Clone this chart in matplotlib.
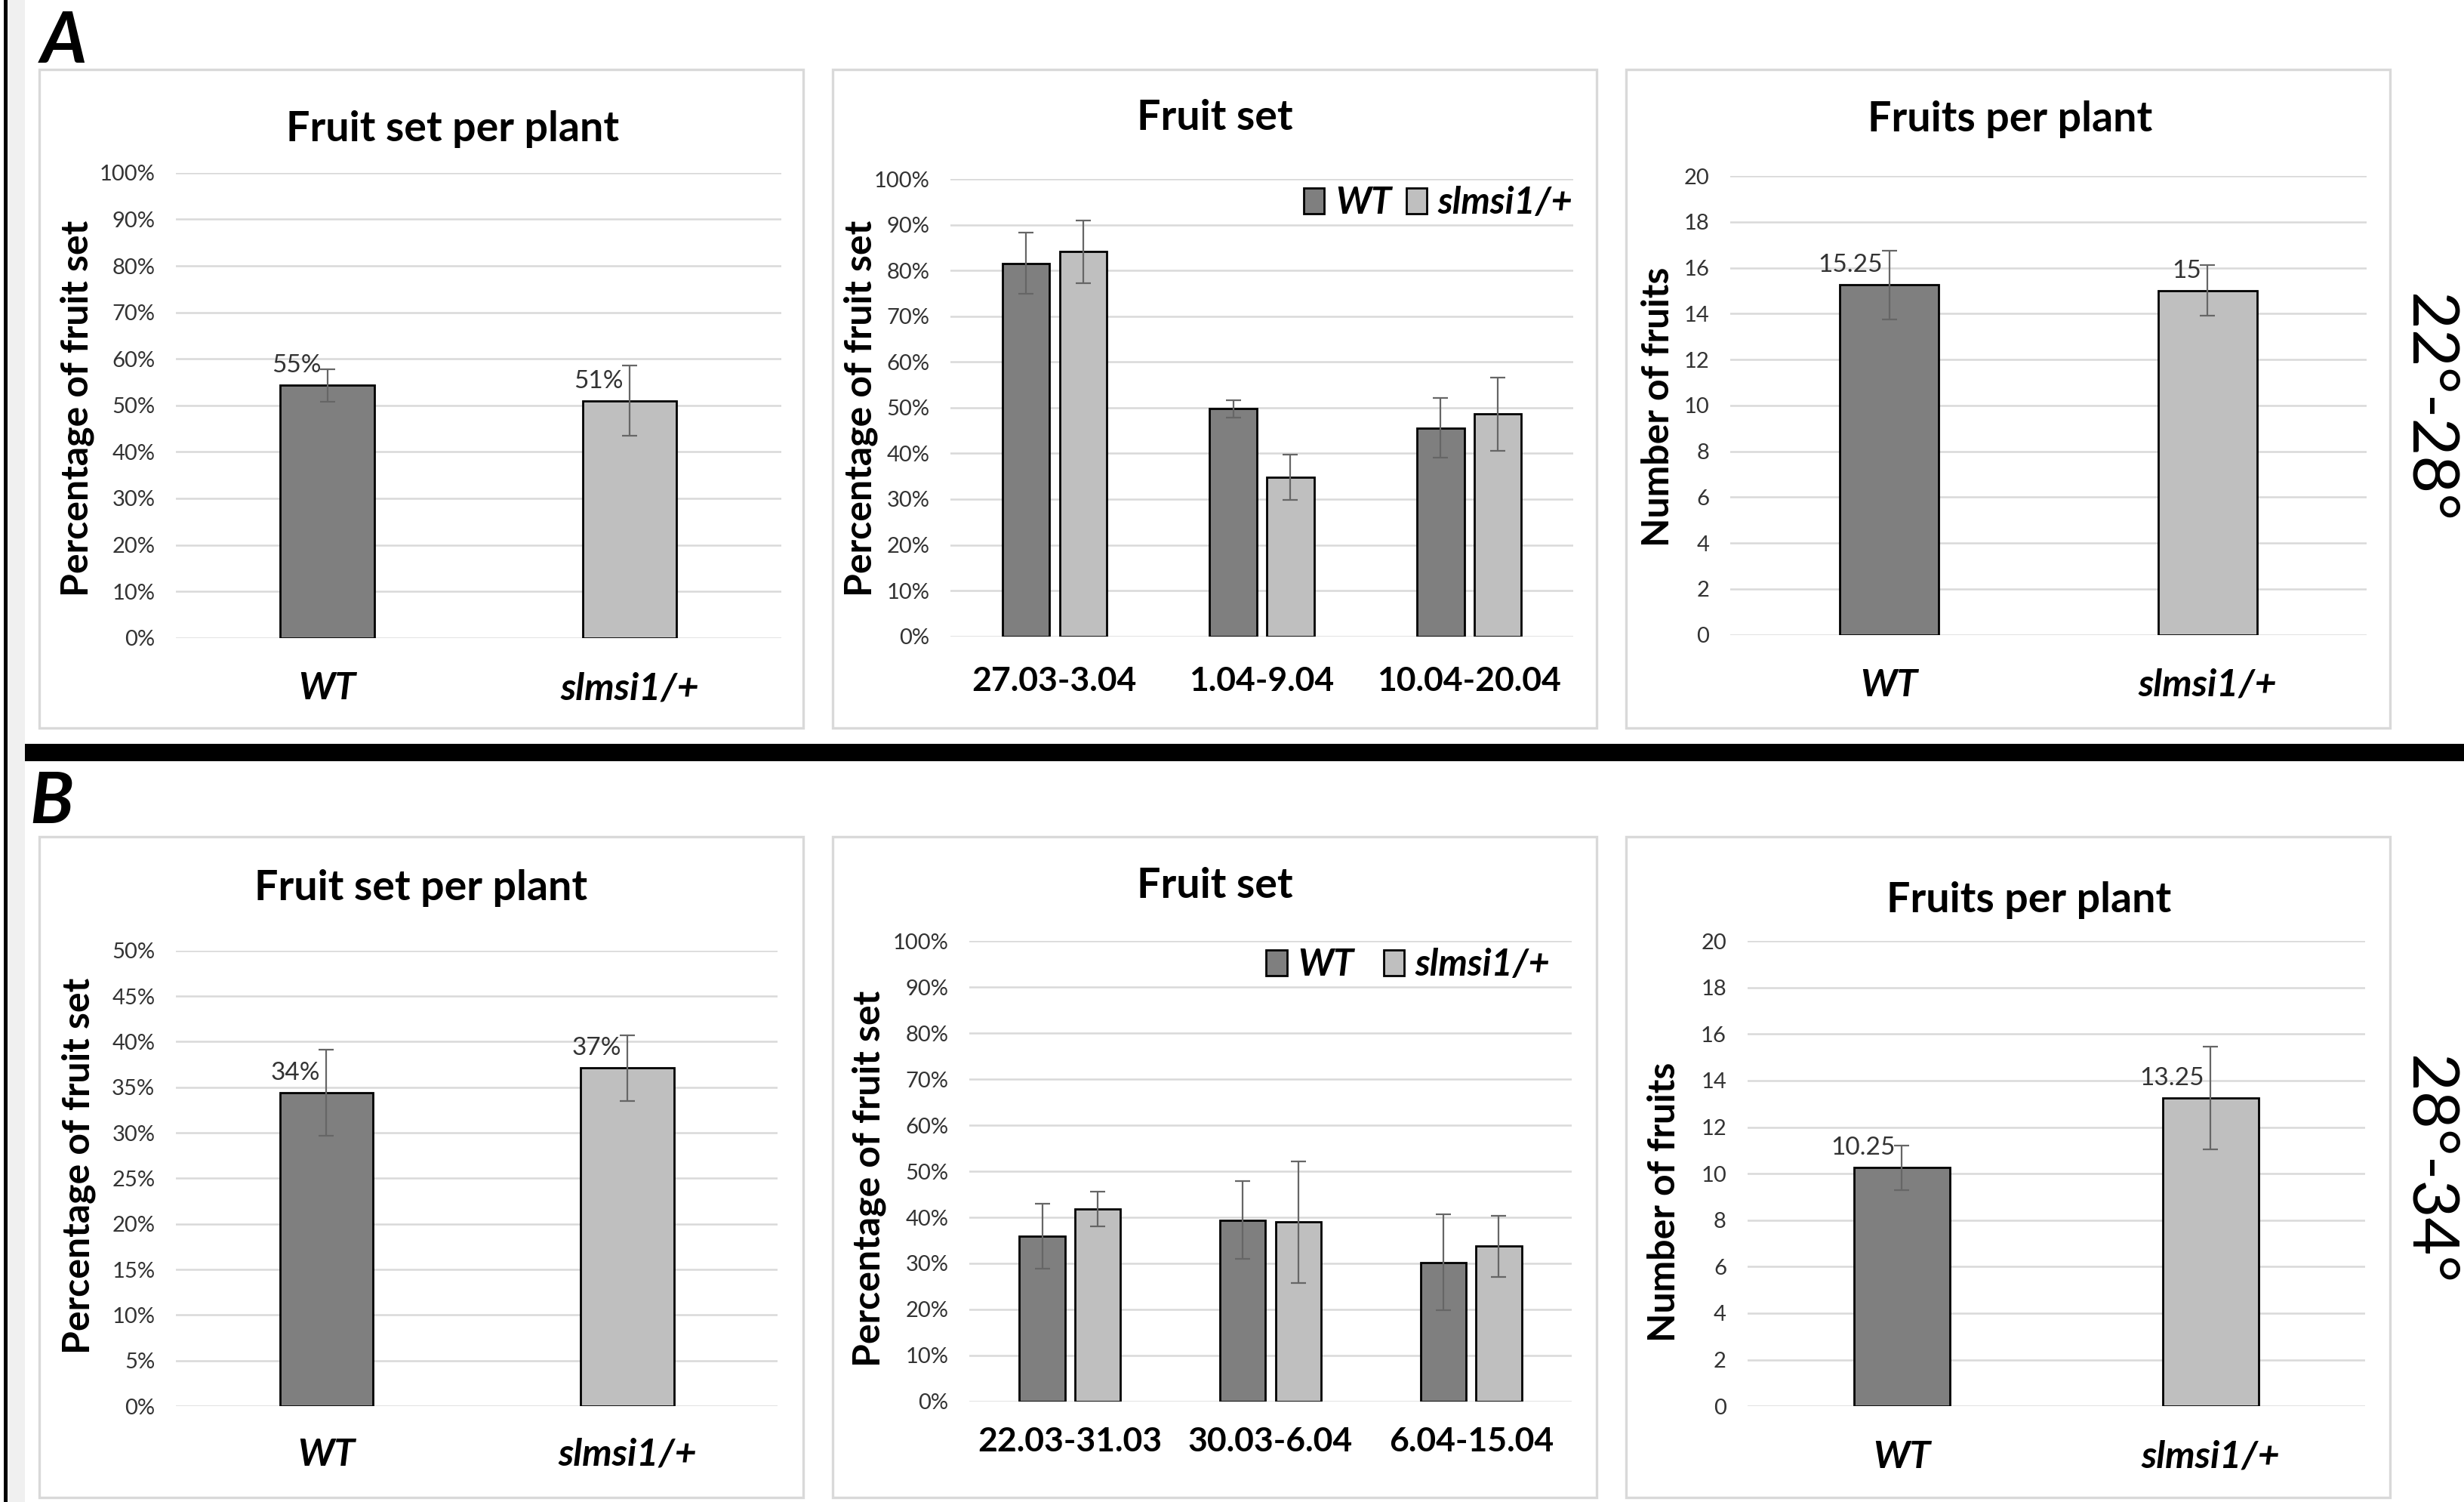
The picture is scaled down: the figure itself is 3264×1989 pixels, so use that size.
import numpy as np
import matplotlib.pyplot as plt
from matplotlib.patches import Rectangle

plt.rcParams['font.family'] = ['Lato', 'DejaVu Sans']

# ---- data ----
genotypes = ['WT', 'slmsi1/+']

# panel A (22-28 degrees)
a_set_mean = [54.3, 51.0]
a_set_err = [3.5, 7.5]
a_set_text = ['55%', '51%']

a_periods = ['27.03-3.04', '1.04-9.04', '10.04-20.04']
a_wt_mean = [81.6, 49.8, 45.6]
a_wt_err = [6.7, 1.9, 6.5]
a_mut_mean = [84.1, 34.8, 48.6]
a_mut_err = [6.9, 4.9, 8.0]

a_fruit_mean = [15.25, 15.0]
a_fruit_err = [1.5, 1.1]
a_fruit_text = ['15.25', '15']

# panel B (28-34 degrees)
b_set_mean = [34.4, 37.1]
b_set_err = [4.7, 3.6]
b_set_text = ['34%', '37%']

b_periods = ['22.03-31.03', '30.03-6.04', '6.04-15.04']
b_wt_mean = [35.9, 39.4, 30.2]
b_wt_err = [7.0, 8.4, 10.4]
b_mut_mean = [41.8, 39.0, 33.7]
b_mut_err = [3.8, 13.2, 6.6]

b_fruit_mean = [10.25, 13.25]
b_fruit_err = [0.95, 2.2]
b_fruit_text = ['10.25', '13.25']

temps = ['22°-28°', '28°-34°']

# ---- colours ----
WT_COL = '#7f7f7f'
MUT_COL = '#bfbfbf'
GRID = '#d9d9d9'
TICK = '#333333'
ERR = '#666666'

fig = plt.figure(figsize=(16.32, 9.945), dpi=200)
W, H = 1568, 956  # layout measured on the shrunk picture


def box(x0, y0, x1, y1):
    return [x0 / W, 1 - y1 / H, (x1 - x0) / W, (y1 - y0) / H]


def style(ax, ymax, step, pct, xpad):
    ax.set_ylim(0, ymax)
    ax.set_yticks(np.arange(0, ymax + step / 2, step))
    if pct:
        ax.yaxis.set_major_formatter(lambda v, p: f'{v:.0f}%')
    ax.grid(axis='y', color=GRID, lw=0.9)
    ax.set_axisbelow(True)
    for s in ax.spines.values():
        s.set_visible(False)
    ax.tick_params(axis='y', length=0, pad=10, labelsize=10.5, labelcolor=TICK)
    ax.tick_params(axis='x', length=0, pad=xpad)


def two_bars(ax, means, errs, texts):
    x = np.arange(len(genotypes))
    ax.bar(x, means, 0.31, color=[WT_COL, MUT_COL], edgecolor='black', lw=1.0, zorder=2)
    ax.errorbar(x, means, yerr=errs, fmt='none', ecolor=ERR, elinewidth=0.8,
                capsize=3.5, capthick=0.8, zorder=3)
    for xi, m, t in zip(x, means, texts):
        ax.annotate(t, (xi, m), xytext=(-3, 4), textcoords='offset points',
                    ha='right', va='bottom', fontsize=12, color=TICK)
    ax.set_xlim(-0.5, 1.5)
    ax.set_xticks(x, genotypes, fontsize=18, fontweight='bold', fontstyle='italic')


def grouped(ax, periods, wt, wt_err, mut, mut_err, anchor, colspace):
    x = np.arange(len(periods))
    w, off = 0.227, 0.138
    ax.bar(x - off, wt, w, color=WT_COL, edgecolor='black', lw=1.0, label='WT', zorder=2)
    ax.bar(x + off, mut, w, color=MUT_COL, edgecolor='black', lw=1.0, label='slmsi1/+', zorder=2)
    ax.errorbar(x - off, wt, yerr=wt_err, fmt='none', ecolor=ERR, elinewidth=0.8,
                capsize=3.5, capthick=0.8, zorder=3)
    ax.errorbar(x + off, mut, yerr=mut_err, fmt='none', ecolor=ERR, elinewidth=0.8,
                capsize=3.5, capthick=0.8, zorder=3)
    ax.set_xlim(-0.5, len(periods) - 0.5)
    ax.set_xticks(x, periods, fontsize=16, fontweight='bold')
    ax.legend(loc='upper right', bbox_to_anchor=anchor, ncol=2, frameon=False,
              prop=dict(size=17.5, weight='bold', style='italic'),
              handlelength=0.57, handleheight=0.7, handletextpad=0.3,
              columnspacing=colspace, borderaxespad=0, borderpad=0)


# ---- panel A ----
ax = fig.add_axes(box(112, 110, 497, 406))
style(ax, 100, 10, True, 16)
two_bars(ax, a_set_mean, a_set_err, a_set_text)

ax = fig.add_axes(box(605, 114, 1001, 405))
style(ax, 100, 10, True, 14)
grouped(ax, a_periods, a_wt_mean, a_wt_err, a_mut_mean, a_mut_err, (1.0, 0.985), 0.4)

ax = fig.add_axes(box(1101, 112, 1506, 404))
style(ax, 20, 2, False, 16)
two_bars(ax, a_fruit_mean, a_fruit_err, a_fruit_text)

# ---- panel B ----
ax = fig.add_axes(box(112, 605, 495, 895))
style(ax, 50, 5, True, 15)
two_bars(ax, b_set_mean, b_set_err, b_set_text)

ax = fig.add_axes(box(617, 599, 1000, 892))
style(ax, 100, 10, True, 12)
grouped(ax, b_periods, b_wt_mean, b_wt_err, b_mut_mean, b_mut_err, (0.965, 0.985), 0.8)

ax = fig.add_axes(box(1112, 599, 1505, 895))
style(ax, 20, 2, False, 16)
two_bars(ax, b_fruit_mean, b_fruit_err, b_fruit_text)

# ---- titles and axis labels ----
titles = [('Fruit set per plant', 288, 82), ('Fruit set', 773, 75), ('Fruits per plant', 1279, 76),
          ('Fruit set per plant', 268, 565), ('Fruit set', 773, 564), ('Fruits per plant', 1291, 573)]
for t, x, y in titles:
    fig.text(x / W, 1 - y / H, t, ha='center', va='center', fontsize=20, fontweight='bold')

ylabels = [('Percentage of fruit set', 49, 260), ('Percentage of fruit set', 548, 260),
           ('Number of fruits', 1055, 259), ('Percentage of fruit set', 50, 742),
           ('Percentage of fruit set', 553, 750), ('Number of fruits', 1059, 765)]
for t, x, y in ylabels:
    fig.text(x / W, 1 - y / H, t, ha='center', va='center', rotation=90,
             fontsize=18, fontweight='bold')

fig.text(1545 / W, 1 - 260 / H, temps[0], ha='center', va='center', rotation=270,
         fontsize=31, fontweight='normal')
fig.text(1545 / W, 1 - 745 / H, temps[1], ha='center', va='center', rotation=270,
         fontsize=31, fontweight='normal')

fig.text(26 / W, 1 - 40 / H, 'A', ha='left', va='baseline', fontsize=34,
         fontweight='bold', fontstyle='italic')
fig.text(19 / W, 1 - 524 / H, 'B', ha='left', va='baseline', fontsize=34,
         fontweight='bold', fontstyle='italic')

# ---- frames around each chart, separators ----
for x0, x1 in [(25, 511), (530, 1016), (1035, 1521)]:
    for y0, y1 in [(44, 463.5), (532.5, 953)]:
        fig.add_artist(Rectangle((x0 / W, 1 - y1 / H), (x1 - x0) / W, (y1 - y0) / H,
                                 transform=fig.transFigure, fill=False,
                                 edgecolor=GRID, lw=1.2))

FW, FH = 3264, 1989
fig.add_artist(Rectangle((10 / FW, 0), 23 / FW, 1, transform=fig.transFigure,
                         color='#f0f0f0', lw=0))
fig.add_artist(Rectangle((5 / FW, 0), 5 / FW, 1, transform=fig.transFigure,
                         color='black', lw=0))
fig.add_artist(Rectangle((33 / FW, 1 - 1008 / FH), 1 - 33 / FW, 23 / FH,
                         transform=fig.transFigure, color='black', lw=0))

fig.savefig('out.png', dpi=200)
